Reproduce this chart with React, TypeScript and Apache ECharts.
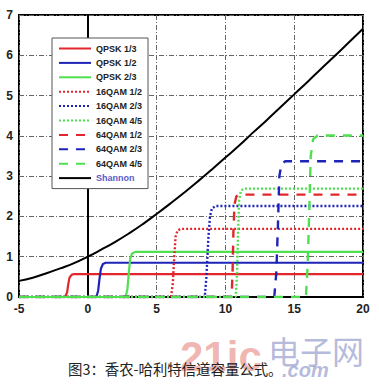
import React, { useEffect, useRef } from "react";
import * as echarts from "echarts";

const xTicks = [-5, 0, 5, 10, 15, 20];
const yTicks = [0, 1, 2, 3, 4, 5, 6, 7];

const seriesNames = [
  "QPSK 1/3", "QPSK 1/2", "QPSK 2/3",
  "16QAM 1/2", "16QAM 2/3", "16QAM 4/5",
  "64QAM 1/2", "64QAM 2/3", "64QAM 4/5",
  "Shannon",
];

const qpsk13: [number, number][] = [[-5, 0], [-1.65, 0], [-1.5, 0.12], [-1.42, 0.32], [-1.33, 0.48], [-1.18, 0.55], [-1.0, 0.57], [20, 0.57]];
const qpsk12: [number, number][] = [[-5, 0], [0.62, 0], [0.75, 0.15], [0.85, 0.45], [0.95, 0.7], [1.1, 0.82], [1.3, 0.85], [20, 0.85]];
const qpsk23: [number, number][] = [[-5, 0], [2.75, 0], [2.88, 0.2], [2.98, 0.6], [3.08, 0.95], [3.22, 1.08], [3.45, 1.12], [20, 1.12]];
const qam16_12: [number, number][] = [[-5, 0], [6.05, 0], [6.18, 0.35], [6.28, 1.0], [6.38, 1.5], [6.52, 1.65], [6.75, 1.69], [20, 1.69]];
const qam16_23: [number, number][] = [[-5, 0], [8.5, 0], [8.62, 0.5], [8.75, 1.4], [8.88, 2.0], [9.02, 2.2], [9.3, 2.26], [20, 2.26]];
const qam16_45: [number, number][] = [[-5, 0], [10.75, 0], [10.85, 0.6], [10.92, 1.6], [11.0, 2.4], [11.12, 2.64], [11.35, 2.69], [20, 2.69]];
const qam64_12: [number, number][] = [[-5, 0], [10.45, 0], [10.52, 0.6], [10.58, 1.6], [10.66, 2.3], [10.8, 2.5], [11.05, 2.54], [20, 2.54]];
const qam64_23: [number, number][] = [[-5, 0], [13.55, 0], [13.7, 0.6], [13.82, 1.8], [13.92, 3.0], [14.08, 3.3], [14.35, 3.37], [20, 3.37]];
const qam64_45: [number, number][] = [[-5, 0], [15.85, 0], [15.98, 0.8], [16.1, 2.2], [16.2, 3.5], [16.38, 3.92], [16.7, 4.01], [20, 4.01]];
const shannonX = [-5, -4, -3, -2, -1, 0, 1, 2, 3, 4, 5, 6, 7, 8, 9, 10, 11, 12, 13, 14, 15, 16, 17, 18, 19, 20];
const shannonY = [0.4, 0.48, 0.59, 0.71, 0.84, 1.0, 1.18, 1.37, 1.58, 1.81, 2.06, 2.32, 2.59, 2.87, 3.16, 3.46, 3.76, 4.08, 4.39, 4.71, 5.03, 5.35, 5.68, 6.0, 6.33, 6.66];

const caption = "图3：香农-哈利特信道容量公式。";

const RED = "#e3262b";
const BLUE = "#1f24b8";
const GREEN = "#4fe04f";

export default function App() {
  const ref = useRef<HTMLDivElement>(null);
  useEffect(() => {
    document.body.style.margin = "0";
    const chart = echarts.init(ref.current!, null, { renderer: "svg" });
    const dotted = [2, 2];
    const dashed = [9, 8];
    const defs: [string, [number, number][], string, any][] = [
      [seriesNames[0], qpsk13, RED, "solid"],
      [seriesNames[1], qpsk12, BLUE, "solid"],
      [seriesNames[2], qpsk23, GREEN, "solid"],
      [seriesNames[3], qam16_12, RED, dotted],
      [seriesNames[4], qam16_23, BLUE, dotted],
      [seriesNames[5], qam16_45, GREEN, dotted],
      [seriesNames[6], qam64_12, RED, dashed],
      [seriesNames[7], qam64_23, BLUE, dashed],
      [seriesNames[8], qam64_45, GREEN, dashed],
    ];
    const series: any[] = defs.map(([name, data, color, type]) => ({
      name,
      type: "line",
      data,
      symbol: "none",
      showSymbol: false,
      smooth: false,
      lineStyle: { color, width: type === "solid" ? 2.2 : 2.4, type },
      itemStyle: { color },
    }));
    series.push({
      name: seriesNames[9],
      type: "line",
      data: shannonX.map((x, i) => [x, shannonY[i]]),
      symbol: "none",
      showSymbol: false,
      smooth: true,
      lineStyle: { color: "#000", width: 2 },
      itemStyle: { color: "#000" },
    });
    const gridLine = { show: true, lineStyle: { color: "#666", width: 1, type: [5, 2, 1, 2] } };
    const axisLabel = { fontSize: 12, fontWeight: "bold", color: "#222", fontFamily: "Liberation Sans, Arial, sans-serif" };
    chart.setOption({
      animation: false,
      backgroundColor: "#fff",
      grid: { left: 19, right: 16, top: 15, bottom: 88, show: true, borderColor: "#000", borderWidth: 2, backgroundColor: "transparent" },
      xAxis: {
        type: "value", min: xTicks[0], max: xTicks[xTicks.length - 1], interval: 5,
        axisLine: { show: true, lineStyle: { color: "#000", width: 2 } },
        axisTick: { show: false },
        axisLabel: { ...axisLabel, margin: 6 },
        splitLine: gridLine,
      },
      yAxis: {
        type: "value", min: yTicks[0], max: yTicks[yTicks.length - 1], interval: 1,
        axisLine: { show: true, lineStyle: { color: "#000", width: 2 } },
        axisTick: { show: false },
        axisLabel: { ...axisLabel, margin: 6 },
        splitLine: gridLine,
      },
      legend: {
        orient: "vertical",
        left: 52,
        top: 38,
        itemWidth: 32,
        itemHeight: 10,
        itemGap: 5.4,
        padding: [6, 6, 6, 6],
        borderColor: "#555",
        borderWidth: 1,
        backgroundColor: "#fff",
        itemStyle: { color: "rgba(0,0,0,0)", borderWidth: 0, opacity: 0 },
        textStyle: { fontSize: 9, fontWeight: "bold", color: "#222", fontFamily: "Liberation Sans, Arial, sans-serif" },
        data: seriesNames.map((n) => (n === "Shannon" ? { name: n, textStyle: { color: "#5a5ac8" } } : { name: n })),
      },
      graphic: [
        { type: "text", left: 180, top: 335, z: 1, style: { text: "21ic", fontSize: 42, fontWeight: "bold", fontFamily: "Liberation Sans Narrow, Liberation Sans, Arial, sans-serif", fill: "rgba(225,110,100,0.5)" } },
        { type: "text", left: 268, top: 334, z: 1, style: { text: "电子网", fontSize: 32, fontFamily: "Noto Sans CJK SC", fill: "rgba(110,120,185,0.5)" } },
        { type: "text", left: 282, top: 360, z: 1, style: { text: ".com", fontSize: 20, fontStyle: "italic", fontWeight: "bold", fontFamily: "Liberation Sans, Arial, sans-serif", fill: "rgba(110,120,185,0.5)" } },
        { type: "text", left: 68, top: 361, z: 2, style: { text: caption, fontSize: 14.4, fontFamily: "Noto Sans CJK SC", fill: "#222" } },
      ],
      series,
    });
    return () => chart.dispose();
  }, []);
  return <div ref={ref} style={{ width: 379, height: 385 }} />;
}
